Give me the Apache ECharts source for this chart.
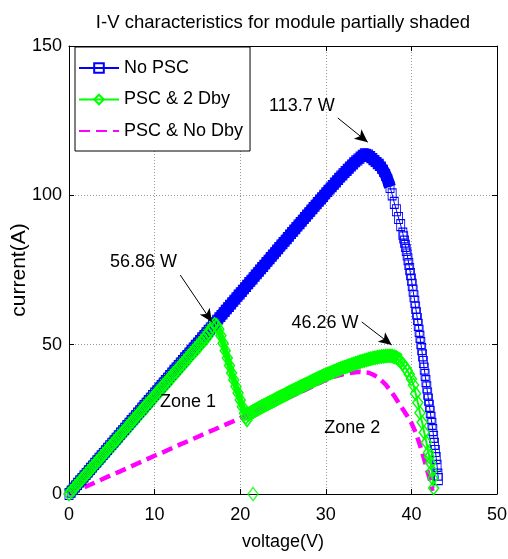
<!DOCTYPE html>
<html>
<head>
<meta charset="utf-8">
<script src="https://cdn.jsdelivr.net/npm/echarts@6/dist/echarts.min.js"></script>
<style>html,body{margin:0;padding:0;background:#fff;}#c{width:508px;height:559px;}</style>
</head>
<body>
<div id="c"></div>
<script>
// ---- data (voltage V, power W) ----
const titleText = 'I-V characteristics for module partially shaded';
const xTicks = [0, 10, 20, 30, 40, 50];
const yTicks = [0, 50, 100, 150];
const seriesNames = ['No PSC', 'PSC & 2 Dby', 'PSC & No Dby'];

const noPsc = [
[0,0],[0.25,0.8],[0.5,1.7],[0.75,2.5],[1,3.4],[1.25,4.2],[1.5,5.0],[1.75,5.9],[2,6.7],[2.25,7.6],[2.5,8.4],[2.75,9.2],
[3,10.1],[3.25,10.9],[3.5,11.8],[3.75,12.6],[4,13.4],[4.25,14.3],[4.5,15.1],[4.75,16.0],[5,16.8],[5.25,17.6],[5.5,18.5],[5.75,19.3],
[6,20.2],[6.25,21.0],[6.5,21.8],[6.75,22.7],[7,23.5],[7.25,24.4],[7.5,25.2],[7.75,26.0],[8,26.9],[8.25,27.7],[8.5,28.6],[8.75,29.4],
[9,30.2],[9.25,31.1],[9.5,31.9],[9.75,32.8],[10,33.6],[10.25,34.4],[10.5,35.3],[10.75,36.1],[11,37.0],[11.25,37.8],[11.5,38.6],[11.75,39.5],
[12,40.3],[12.25,41.2],[12.5,42.0],[12.75,42.8],[13,43.7],[13.25,44.5],[13.5,45.4],[13.75,46.2],[14,47.0],[14.25,47.9],[14.5,48.7],[14.75,49.6],
[15,50.4],[15.25,51.2],[15.5,52.1],[15.75,52.9],[16,53.8],[16.25,54.6],[16.5,55.4],[16.75,56.3],[17,57.1],[17.25,58.0],[17.5,58.8],[17.75,59.6],
[18,60.5],[18.25,61.3],[18.5,62.2],[18.75,63.0],[19,63.8],[19.25,64.7],[19.5,65.5],[19.75,66.4],[20,67.2],[20.25,68.0],[20.5,68.9],[20.75,69.7],
[21,70.6],[21.25,71.4],[21.5,72.2],[21.75,73.1],[22,73.9],[22.25,74.8],[22.5,75.6],[22.75,76.4],[23,77.3],[23.25,78.1],[23.5,79.0],[23.75,79.8],
[24,80.6],[24.25,81.5],[24.5,82.3],[24.75,83.2],[25,84.0],[25.25,84.8],[25.5,85.7],[25.75,86.5],[26,87.4],[26.25,88.2],[26.5,89.0],[26.75,89.9],
[27,90.7],[27.25,91.5],[27.5,92.4],[27.75,93.2],[28,94.0],[28.25,94.9],[28.5,95.7],[28.75,96.5],[29,97.4],[29.25,98.2],[29.5,99.0],[29.75,99.8],
[30,100.7],[30.25,101.5],[30.5,102.3],[30.75,103.1],[31,103.9],[31.25,104.7],[31.5,105.5],[31.75,106.3],[32,107.0],[32.25,107.8],[32.5,108.5],[32.75,109.3],
[33,110.0],[33.25,110.7],[33.5,111.4],[33.75,112.0],[34,112.6],[34.25,113.2],[34.5,113.7],[34.75,113.6],[35,113.3],[35.25,112.8],[35.5,112.1],[35.75,111.5],
[36,110.8],[36.25,110.2],[36.5,109.3],[36.75,108.2],[37,106.8],[37.25,105.0],[37.5,102.8],[37.75,100.3],[38,97.5],[38.25,95.0],[38.5,92.4],[38.75,90.0],
[39,87.2],[39.1,85.9],[39.2,84.5],[39.3,83.1],[39.4,81.7],[39.5,80.2],[39.6,78.6],[39.7,77.0],[39.8,75.3],[39.9,73.6],
[40,71.8],[40.1,70.0],[40.2,68.1],[40.3,66.2],[40.4,64.3],[40.5,62.4],[40.6,60.5],[40.7,58.6],[40.8,56.6],[40.9,54.6],
[41,52.6],[41.1,50.5],[41.2,48.5],[41.3,46.4],[41.4,44.2],[41.5,42.0],[41.6,39.9],[41.7,37.8],[41.8,35.7],[41.9,33.6],
[42,31.6],[42.1,29.5],[42.2,27.5],[42.3,25.5],[42.4,23.5],[42.5,21.4],[42.6,19.1],[42.7,16.8],[42.8,14.4],[42.9,12.0],
[43,9.4],[43.1,6.5],[43.15,5.0]
];

const psc2Dby = [
[0,0],[0.25,0.8],[0.5,1.6],[0.75,2.5],[1,3.3],[1.25,4.1],[1.5,4.9],[1.75,5.8],[2,6.6],[2.25,7.4],[2.5,8.2],[2.75,9.1],
[3,9.9],[3.25,10.7],[3.5,11.5],[3.75,12.4],[4,13.2],[4.25,14.0],[4.5,14.8],[4.75,15.7],[5,16.5],[5.25,17.3],[5.5,18.1],[5.75,19.0],
[6,19.8],[6.25,20.6],[6.5,21.4],[6.75,22.3],[7,23.1],[7.25,23.9],[7.5,24.7],[7.75,25.6],[8,26.4],[8.25,27.2],[8.5,28.0],[8.75,28.9],
[9,29.7],[9.25,30.5],[9.5,31.3],[9.75,32.2],[10,33.0],[10.25,33.8],[10.5,34.6],[10.75,35.5],[11,36.3],[11.25,37.1],[11.5,37.9],[11.75,38.8],
[12,39.6],[12.25,40.4],[12.5,41.2],[12.75,42.1],[13,42.9],[13.25,43.7],[13.5,44.5],[13.75,45.4],[14,46.2],[14.25,47.0],[14.5,47.8],[14.75,48.6],
[15,49.5],[15.25,50.3],[15.5,51.1],[15.75,52.0],[16,52.9],[16.25,53.8],[16.5,54.9],[16.75,56.0],[17,56.86],[17.25,56.5],[17.5,55.2],[17.75,53.0],
[18,50.5],[18.25,48.0],[18.5,45.5],[18.75,43.0],[19,40.5],[19.25,38.2],[19.5,36.0],[19.75,33.8],[20,31.5],[20.25,29.2],[20.5,27.0],[20.65,25.6],
[20.8,24.8],[21,26.6],[21.25,27.2],[21.5,27.6],[21.75,28.0],[22,28.4],[22.25,28.8],[22.5,29.2],[22.75,29.6],[23,29.9],[23.25,30.3],[23.5,30.7],[23.75,31.0],
[24,31.4],[24.25,31.8],[24.5,32.2],[24.75,32.5],[25,32.9],[25.25,33.2],[25.5,33.6],[25.75,34.0],[26,34.4],[26.25,34.7],[26.5,35.1],[26.75,35.4],
[27,35.8],[27.25,36.1],[27.5,36.5],[27.75,36.8],[28,37.2],[28.25,37.5],[28.5,37.9],[28.75,38.2],[29,38.6],[29.25,38.9],[29.5,39.2],[29.75,39.6],
[30,39.9],[30.25,40.2],[30.5,40.5],[30.75,40.8],[31,41.1],[31.25,41.4],[31.5,41.7],[31.75,42.0],[32,42.3],[32.25,42.5],[32.5,42.8],[32.75,43.0],
[33,43.3],[33.25,43.5],[33.5,43.8],[33.75,44.0],[34,44.3],[34.25,44.5],[34.5,44.7],[34.75,44.9],[35,45.1],[35.25,45.3],[35.5,45.5],[35.75,45.6],
[36,45.8],[36.25,45.9],[36.5,46.05],[36.75,46.1],[37,46.2],[37.25,46.24],[37.5,46.26],[37.75,46.2],[38,46.0],[38.25,45.6],[38.5,45.0],[38.75,44.3],
[39,43.5],[39.25,42.5],[39.5,41.4],[39.75,40.1],[40,38.5],[40.25,36.5],[40.5,33.6],[40.75,30.6],[41,27.2],[41.25,24.0],[41.5,20.6],[41.75,17.3],
[42,13.9],[42.1,12.5],[42.25,10.4],[42.4,7.8],[42.5,5.2],[42.6,2.0]
];
const psc2DbyStray = [[21.5, 0]];

const pscNoDby = [
[0,0],[1,1.3],[2,2.5],[3,3.8],[4,5.1],[5,6.4],[6,7.6],[7,8.9],[8,10.2],[9,11.5],[10,12.8],[11,14.0],[12,15.3],[13,16.6],
[14,17.8],[15,19.1],[16,20.4],[17,21.6],[18,22.9],[19,24.1],[20,25.4],[21,26.6],[22,27.9],[23,29.1],[24,30.4],[25,31.6],
[26,32.8],[27,34.1],[28,35.4],[29,36.9],[30,38.2],[31,39.3],[32,40.1],[33,40.6],[34,40.9],[35,40.6],[35.5,40.0],[36,39.2],
[36.5,38.0],[37,36.6],[37.5,34.8],[38,32.8],[38.5,30.6],[39,28.4],[39.5,26.2],[40,23.8],[40.5,20.6],[41,16.4],[41.5,11.6],
[42,6.4],[42.25,3.8],[42.45,1.0]
];

// annotations: [text, x, y] in data units
const labels = [['113.7 W',27.2,129.9],['56.86 W',8.7,77.7],['46.26 W',29.9,57.2],['Zone 1',13.9,30.8],['Zone 2',33.1,22.1]];
const arrows = [[[31.4,125.9],[34.9,117.8]],[[13.0,73.3],[16.7,57.6]],[[34.2,57.6],[37.7,49.9]]];

// voltage ranges where the dense markers merge into a solid band
const blueBandRange = [0, 37.5];
const greenBandRanges = [[0, 17.25], [21, 38.5]];
const greenDropRange = [17, 20.8];

const FONT = '"Liberation Sans", Arial, sans-serif';
const FS = 18;
const inRange = (d, r) => d.map(p => (p[0] >= r[0] && p[0] <= r[1]) ? p : [p[0], '-']);
const chart = echarts.init(document.getElementById('c'), null, {renderer:'canvas'});
const gridLine = {show:true, lineStyle:{color:'#9a9a9a', type:[1,2], width:1}};
const band = (name, data, color, width) => ({name, type:'line', data, symbol:'none', silent:true,
  clip:false, connectNulls:false, lineStyle:{color, width}});
const option = {
  animation:false,
  backgroundColor:'#fff',
  title:{text:titleText, left:283, top:13, textAlign:'center', padding:0,
    textStyle:{fontFamily:FONT, fontSize:18.5, fontWeight:'normal', color:'#000'}},
  legend:{
    data:seriesNames, orient:'vertical', left:75, top:47,
    backgroundColor:'#fff', borderColor:'#000', borderWidth:1,
    padding:[12,7,11,3], itemGap:13.5, itemWidth:40, itemHeight:12,
    textStyle:{fontFamily:FONT, fontSize:FS, color:'#000'}, z:10
  },
  grid:{left:69, right:11, top:46, bottom:65, containLabel:false, outerBoundsMode:'none'},
  xAxis:[{
    type:'value', min:xTicks[0], max:xTicks[xTicks.length-1], interval:10,
    name:'voltage(V)', nameLocation:'middle', nameGap:39,
    nameTextStyle:{fontFamily:FONT, fontSize:FS, color:'#000'},
    axisLine:{show:true, onZero:false, lineStyle:{color:'#000', width:1}},
    axisTick:{show:true, inside:true, length:5, lineStyle:{color:'#000'}},
    axisLabel:{fontFamily:FONT, fontSize:FS, color:'#000', margin:12},
    splitLine:gridLine
  },{
    type:'value', position:'top', min:xTicks[0], max:xTicks[xTicks.length-1], interval:10,
    axisLine:{show:true, onZero:false, lineStyle:{color:'#000', width:1}},
    axisTick:{show:true, inside:true, length:5, lineStyle:{color:'#000'}},
    axisLabel:{show:false}, splitLine:{show:false}
  }],
  yAxis:[{
    type:'value', min:yTicks[0], max:yTicks[yTicks.length-1], interval:50,
    name:'current(A)', nameLocation:'middle', nameGap:39, nameMoveOverlap:false,
    nameTextStyle:{fontFamily:FONT, fontSize:21, color:'#000'},
    axisLine:{show:true, onZero:false, lineStyle:{color:'#000', width:1}},
    axisTick:{show:true, inside:true, length:5, lineStyle:{color:'#000'}},
    axisLabel:{fontFamily:FONT, fontSize:FS, color:'#000', margin:7},
    splitLine:gridLine
  },{
    type:'value', position:'right', min:yTicks[0], max:yTicks[yTicks.length-1], interval:50,
    axisLine:{show:true, onZero:false, lineStyle:{color:'#000', width:1}},
    axisTick:{show:true, inside:true, length:5, lineStyle:{color:'#000'}},
    axisLabel:{show:false}, splitLine:{show:false}
  }],
  series:[
    band('bandBlue', inRange(noPsc, blueBandRange), '#0000ff', 12),
    {name:seriesNames[0], type:'line', data:noPsc, clip:false,
     symbol:'rect', symbolSize:[8,11], showAllSymbol:true,
     lineStyle:{color:'#0000ff', width:1},
     itemStyle:{color:'rgba(0,0,0,0)', borderColor:'#0000ff', borderWidth:1}},
    band('bandGreen1', inRange(psc2Dby, greenBandRanges[0]), '#00ff00', 13),
    band('bandGreen2', inRange(psc2Dby, greenBandRanges[1]), '#00ff00', 13),
    band('bandGreen3', inRange(psc2Dby, greenDropRange), '#00ff00', 6),
    {name:seriesNames[1], type:'line', data:psc2Dby, clip:false,
     symbol:'diamond', symbolSize:[10,13], showAllSymbol:true,
     lineStyle:{color:'#00ff00', width:2},
     itemStyle:{color:'rgba(0,0,0,0)', borderColor:'#00ff00', borderWidth:1.5}},
    {name:seriesNames[2], type:'line', data:pscNoDby, clip:false,
     symbol:'none', lineStyle:{color:'#ff00ff', width:4.5, type:[11,6]},
     itemStyle:{color:'rgba(0,0,0,0)', borderWidth:0}},
    {name:'stray', type:'scatter', data:psc2DbyStray, clip:false,
     symbol:'diamond', symbolSize:[10,13],
     itemStyle:{color:'rgba(0,0,0,0)', borderColor:'#00ff00', borderWidth:1.5}},
    {name:'notes', type:'scatter', symbolSize:0, silent:true, z:20,
     itemStyle:{color:'#000'},
     data:labels.map(l=>({name:l[0], value:[l[1],l[2]]})),
     label:{show:true, position:[0,0], align:'center', verticalAlign:'middle',
       formatter:p=>p.name, fontFamily:FONT, fontSize:FS, color:'#000', textBorderWidth:0, opacity:1},
     markLine:{silent:true, symbol:['none','arrow'], symbolSize:[9,13], animation:false,
       lineStyle:{color:'#000', width:1, type:'solid'}, label:{show:false},
       data:arrows.map(a=>[{coord:a[0]},{coord:a[1]}])}}
  ]
};
chart.setOption(option);
</script>
</body>
</html>
